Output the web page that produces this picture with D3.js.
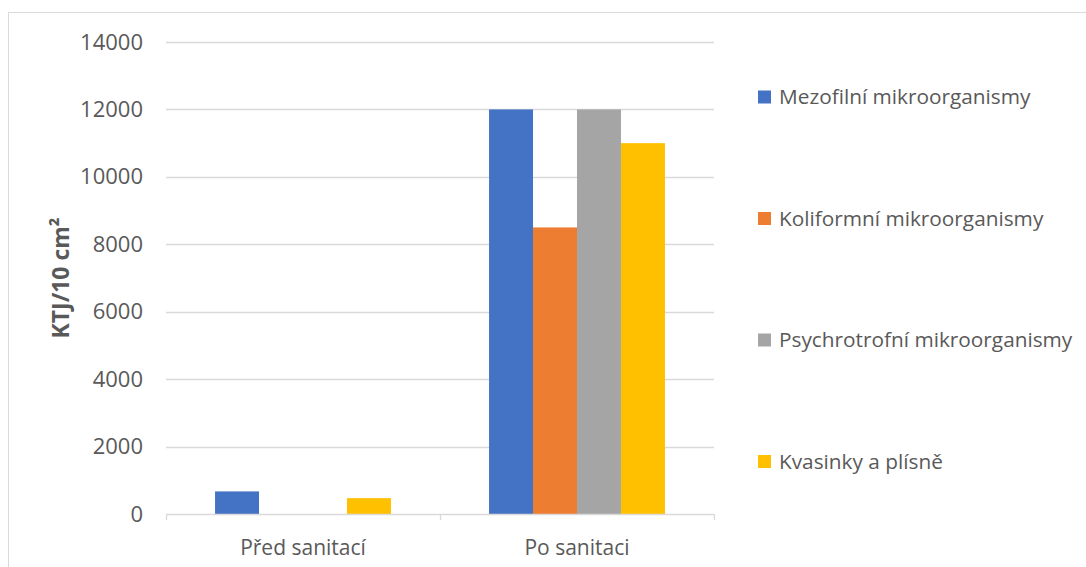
<!DOCTYPE html>
<html>
<head>
<meta charset="utf-8">
<script src="https://cdn.jsdelivr.net/npm/d3@7"></script>
<style>
  html, body { margin: 0; padding: 0; background: #fff; }
  svg { display: block; }
  text { font-family: "Open Sans", "Noto Sans", sans-serif; fill: #595959; }
</style>
</head>
<body>
<svg id="chart" width="1086" height="567"></svg>
<script>
// Microbial counts before and after sanitation (KTJ per 10 cm²)
const categories = ["Před sanitací", "Po sanitaci"];
const seriesNames = [
  "Mezofilní mikroorganismy",
  "Koliformní mikroorganismy",
  "Psychrotrofní mikroorganismy",
  "Kvasinky a plísně"
];
const mezofilni = [670, 12000];
const koliformni = [0, 8500];
const psychrotrofni = [0, 12000];
const kvasinky = [470, 11000];
const yTicks = [0, 2000, 4000, 6000, 8000, 10000, 12000, 14000];
const colors = ["#4472C4", "#ED7D31", "#A5A5A5", "#FFC000"];
const axisTitle = "KTJ/10 cm²";

const seriesValues = [mezofilni, koliformni, psychrotrofni, kvasinky];

const svg = d3.select("#chart");

// outer chart frame
svg.append("rect")
  .attr("x", 8.5).attr("y", 12.5)
  .attr("width", 1100).attr("height", 600)
  .attr("fill", "none").attr("stroke", "#D9D9D9").attr("stroke-width", 1);

const plot = { left: 166, right: 714, top: 42, bottom: 514 };

const y = d3.scaleLinear().domain([0, 14000]).range([plot.bottom, plot.top]);
const x0 = d3.scaleBand().domain(categories).range([plot.left, plot.right]).padding(0);
const groupInset = x0.bandwidth() * 0.179;
const x1 = d3.scaleBand().domain(seriesNames)
  .range([groupInset, x0.bandwidth() - groupInset]).padding(0);

// horizontal gridlines
svg.append("g")
  .selectAll("line")
  .data(yTicks.filter(t => t > 0))
  .join("line")
  .attr("x1", plot.left).attr("x2", plot.right)
  .attr("y1", d => Math.round(y(d)) + 0.5).attr("y2", d => Math.round(y(d)) + 0.5)
  .attr("stroke", "#D9D9D9").attr("stroke-width", 1.3);

// y axis labels
const yAxis = d3.axisLeft(y).tickValues(yTicks).tickSize(0).tickPadding(0)
  .tickFormat(d3.format("d"));
const gy = svg.append("g").attr("transform", `translate(${plot.left - 23},0)`).call(yAxis);
gy.select(".domain").remove();
gy.selectAll("text")
  .attr("font-size", 22).attr("fill", "#595959")
  .style("font-family", "'Open Sans', sans-serif");

// bars
const groups = svg.append("g")
  .selectAll("g")
  .data(categories)
  .join("g")
  .attr("transform", d => `translate(${x0(d)},0)`);

groups.selectAll("rect")
  .data((c, ci) => seriesNames.map((s, si) => ({ s, si, v: seriesValues[si][ci] })))
  .join("rect")
  .filter(d => d.v > 0)
  .attr("x", d => x1(d.s))
  .attr("width", x1.bandwidth())
  .attr("y", d => y(d.v))
  .attr("height", d => y(0) - y(d.v))
  .attr("fill", d => colors[d.si]);

// category axis
const xAxis = d3.axisBottom(x0).tickSize(0).tickPadding(0);
const gx = svg.append("g").attr("transform", `translate(0,${plot.bottom})`).call(xAxis);
gx.select(".domain").remove();
gx.selectAll("text")
  .attr("dy", 0).attr("y", 41)
  .attr("font-size", 21).attr("fill", "#595959")
  .style("font-family", "'Open Sans', sans-serif");

// baseline with boundary ticks
svg.append("line")
  .attr("x1", plot.left).attr("x2", plot.right)
  .attr("y1", plot.bottom + 0.5).attr("y2", plot.bottom + 0.5)
  .attr("stroke", "#D9D9D9").attr("stroke-width", 1.3);
const boundaries = categories.map(c => x0(c)).concat([x0(categories[categories.length - 1]) + x0.bandwidth()]);
svg.append("g")
  .selectAll("line")
  .data(boundaries)
  .join("line")
  .attr("x1", d => Math.round(d) + 0.5).attr("x2", d => Math.round(d) + 0.5)
  .attr("y1", plot.bottom).attr("y2", plot.bottom + 6)
  .attr("stroke", "#D9D9D9").attr("stroke-width", 1.3);

// y axis title
svg.append("text")
  .attr("transform", `translate(69,${(plot.top + plot.bottom) / 2}) rotate(-90)`)
  .attr("text-anchor", "middle")
  .attr("font-size", 23).attr("font-weight", "bold")
  .text(axisTitle);

// legend
const legend = svg.append("g")
  .selectAll("g")
  .data(seriesNames)
  .join("g")
  .attr("transform", (d, i) => `translate(758,${97 + i * 121.5})`);
legend.append("rect")
  .attr("x", 0).attr("y", -6.5).attr("width", 13).attr("height", 13)
  .attr("fill", (d, i) => colors[i]);
legend.append("text")
  .attr("x", 21).attr("y", 0).attr("dy", "0.35em")
  .attr("font-size", 20.8)
  .text(d => d);
</script>
</body>
</html>
